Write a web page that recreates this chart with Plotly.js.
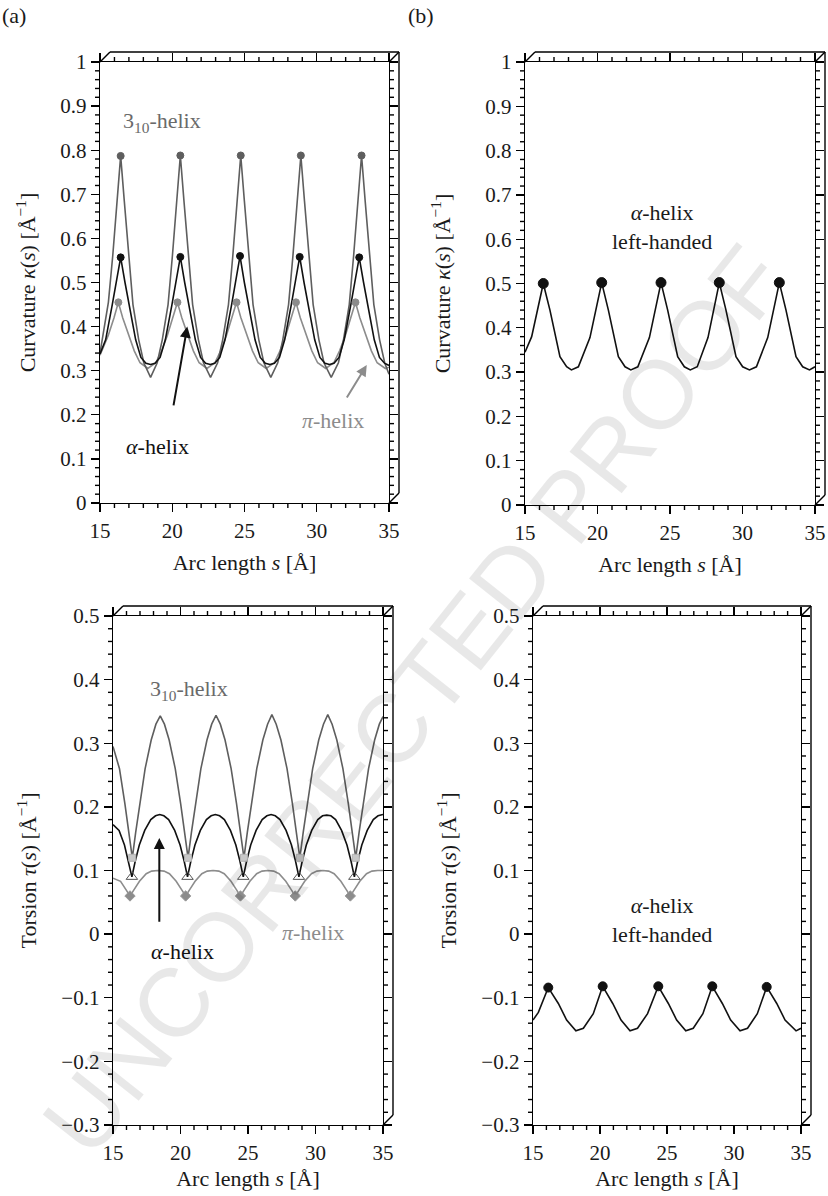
<!DOCTYPE html>
<html><head><meta charset="utf-8">
<script src="https://cdn.plot.ly/plotly-3.0.1.min.js"></script>
<style>body{margin:0;background:#fff}#chart{width:828px;height:1196px}</style>
</head><body><div id="chart"></div>
<script>
// ---------- (a) curvature ----------
const s_k310 = [15.00,15.58,15.88,16.18,16.43,16.68,16.98,17.28,17.68,18.03,18.50,18.96,19.31,19.71,20.01,20.31,20.56,20.81,21.11,21.41,21.81,22.16,22.65,23.14,23.49,23.89,24.19,24.49,24.74,24.99,25.29,25.59,25.99,26.34,26.82,27.30,27.65,28.05,28.35,28.65,28.90,29.15,29.45,29.75,30.15,30.50,31.00,31.50,31.85,32.25,32.55,32.85,33.10,33.35,33.65,33.95,34.35,34.70,35.00];
const k310   = [0.340,0.455,0.560,0.685,0.787,0.685,0.560,0.450,0.370,0.318,0.285,0.318,0.370,0.450,0.560,0.685,0.788,0.685,0.560,0.450,0.370,0.318,0.285,0.318,0.370,0.450,0.560,0.685,0.788,0.685,0.560,0.450,0.370,0.318,0.285,0.318,0.370,0.450,0.560,0.685,0.788,0.685,0.560,0.450,0.370,0.318,0.285,0.318,0.370,0.450,0.560,0.685,0.788,0.685,0.560,0.450,0.370,0.318,0.292];
const s_kA = [15.00,15.39,15.85,16.13,16.43,16.73,17.01,17.47,17.83,18.18,18.50,18.81,19.16,19.52,19.98,20.26,20.56,20.86,21.14,21.60,21.96,22.31,22.63,22.94,23.29,23.65,24.11,24.39,24.69,24.99,25.27,25.73,26.09,26.44,26.76,27.07,27.42,27.78,28.24,28.52,28.82,29.12,29.40,29.86,30.22,30.57,30.88,31.19,31.54,31.90,32.36,32.64,32.94,33.24,33.52,33.98,34.34,34.69,35.00];
const kA   = [0.338,0.370,0.450,0.500,0.557,0.500,0.450,0.370,0.330,0.317,0.314,0.317,0.330,0.370,0.450,0.500,0.558,0.500,0.450,0.370,0.330,0.317,0.314,0.317,0.330,0.370,0.450,0.500,0.560,0.500,0.450,0.370,0.330,0.317,0.314,0.317,0.330,0.370,0.450,0.500,0.558,0.500,0.450,0.370,0.330,0.317,0.314,0.317,0.330,0.370,0.450,0.500,0.557,0.500,0.450,0.370,0.330,0.317,0.312];
const s_kPi = [15.00,15.57,15.97,16.27,16.57,16.97,17.37,17.77,18.31,18.86,19.26,19.66,20.06,20.36,20.66,21.06,21.46,21.86,22.40,22.95,23.35,23.75,24.15,24.45,24.75,25.15,25.55,25.95,26.50,27.06,27.46,27.86,28.26,28.56,28.86,29.26,29.66,30.06,30.62,31.18,31.58,31.98,32.38,32.68,32.98,33.38,33.78,34.18,34.75,35.00];
const kPi   = [0.335,0.380,0.420,0.455,0.420,0.380,0.345,0.318,0.305,0.318,0.345,0.380,0.420,0.455,0.420,0.380,0.345,0.318,0.305,0.318,0.345,0.380,0.420,0.455,0.420,0.380,0.345,0.318,0.305,0.318,0.345,0.380,0.420,0.455,0.420,0.380,0.345,0.318,0.305,0.318,0.345,0.380,0.420,0.455,0.420,0.380,0.345,0.318,0.305,0.308];
const pk310_s = [16.43,20.56,24.74,28.90,33.10], pk310 = [0.787,0.788,0.788,0.788,0.788];
const pkA_s   = [16.43,20.56,24.69,28.82,32.94], pkA   = [0.557,0.558,0.560,0.558,0.557];
const pkPi_s  = [16.27,20.36,24.45,28.56,32.68], pkPi  = [0.455,0.455,0.455,0.455,0.455];

// ---------- (a) torsion ----------
const s_t310 = [15.00,15.48,15.88,16.18,16.43,16.68,16.98,17.38,17.83,18.18,18.50,18.81,19.16,19.61,20.01,20.31,20.56,20.81,21.11,21.51,21.96,22.31,22.63,22.95,23.30,23.75,24.15,24.45,24.70,24.95,25.25,25.65,26.10,26.45,26.77,27.09,27.44,27.89,28.29,28.59,28.84,29.09,29.39,29.79,30.24,30.59,30.91,31.23,31.58,32.03,32.43,32.73,32.98,33.23,33.53,33.93,34.38,34.73,35.00];
const t310   = [0.295,0.260,0.205,0.160,0.120,0.160,0.205,0.260,0.305,0.330,0.343,0.330,0.305,0.260,0.205,0.160,0.120,0.160,0.205,0.260,0.305,0.330,0.344,0.330,0.305,0.260,0.205,0.160,0.120,0.160,0.205,0.260,0.305,0.330,0.345,0.330,0.305,0.260,0.205,0.160,0.120,0.160,0.205,0.260,0.305,0.330,0.345,0.330,0.305,0.260,0.205,0.160,0.120,0.160,0.205,0.260,0.305,0.330,0.342];
const s_tA = [15.00,15.45,15.85,16.15,16.40,16.65,16.95,17.35,17.80,18.15,18.46,18.77,19.12,19.57,19.97,20.27,20.52,20.77,21.07,21.47,21.92,22.27,22.58,22.90,23.25,23.70,24.10,24.40,24.65,24.90,25.20,25.60,26.05,26.40,26.71,27.02,27.37,27.82,28.22,28.52,28.77,29.02,29.32,29.72,30.17,30.52,30.83,31.14,31.49,31.93,32.33,32.63,32.88,33.13,33.43,33.83,34.28,34.63,35.00];
const tA   = [0.172,0.163,0.140,0.115,0.090,0.115,0.140,0.163,0.180,0.186,0.188,0.186,0.180,0.163,0.140,0.115,0.090,0.115,0.140,0.163,0.180,0.186,0.188,0.186,0.180,0.163,0.140,0.115,0.090,0.115,0.140,0.163,0.180,0.186,0.188,0.186,0.180,0.163,0.140,0.115,0.090,0.115,0.140,0.163,0.180,0.186,0.187,0.186,0.180,0.163,0.140,0.115,0.090,0.115,0.140,0.163,0.180,0.186,0.188];
const s_tPi = [15.00,15.56,15.96,16.26,16.56,16.96,17.46,17.86,18.32,18.78,19.18,19.68,20.08,20.38,20.68,21.08,21.58,21.98,22.41,22.84,23.24,23.74,24.14,24.44,24.74,25.14,25.64,26.04,26.47,26.90,27.30,27.80,28.20,28.50,28.80,29.20,29.70,30.10,30.54,30.98,31.38,31.88,32.28,32.58,32.88,33.28,33.78,34.18,34.60,35.00];
const tPi   = [0.088,0.083,0.070,0.060,0.070,0.083,0.095,0.099,0.100,0.099,0.095,0.083,0.070,0.060,0.070,0.083,0.095,0.099,0.100,0.099,0.095,0.083,0.070,0.060,0.070,0.083,0.095,0.099,0.100,0.099,0.095,0.083,0.070,0.060,0.070,0.083,0.095,0.099,0.100,0.099,0.095,0.083,0.070,0.060,0.070,0.083,0.095,0.099,0.100,0.100];
const mn310_s = [16.43,20.56,24.70,28.84,32.98], mn310 = [0.120,0.120,0.120,0.120,0.120];
const mnA_s   = [16.40,20.52,24.65,28.77,32.88], mnA   = [0.090,0.090,0.090,0.090,0.090];
const mnPi_s  = [16.26,20.38,24.44,28.50,32.58], mnPi  = [0.060,0.060,0.060,0.060,0.060];

// ---------- (b) left-handed alpha ----------
const s_kL = [15.00,15.46,16.26,16.72,17.41,17.87,18.20,18.68,19.48,20.29,20.75,21.44,21.90,22.30,22.78,23.58,24.38,24.84,25.53,25.99,26.40,26.88,27.62,28.40,28.86,29.55,30.01,30.48,30.96,31.74,32.54,33.00,33.69,34.15,34.62,35.00];
const kL   = [0.345,0.380,0.500,0.440,0.335,0.312,0.305,0.312,0.378,0.502,0.440,0.335,0.312,0.305,0.312,0.378,0.502,0.440,0.335,0.312,0.305,0.312,0.378,0.502,0.440,0.335,0.312,0.305,0.312,0.378,0.502,0.440,0.335,0.312,0.305,0.312];
const pkL_s = [16.26,20.29,24.38,28.40,32.54], pkL = [0.500,0.502,0.502,0.502,0.502];
const s_tL = [15.00,15.40,16.14,16.89,17.51,18.20,18.76,19.50,20.20,20.95,21.57,22.24,22.80,23.55,24.35,25.10,25.72,26.40,26.96,27.68,28.38,29.13,29.75,30.45,31.01,31.74,32.44,33.19,33.81,34.63,35.00];
const tL   = [-0.135,-0.123,-0.084,-0.109,-0.135,-0.152,-0.148,-0.125,-0.082,-0.109,-0.135,-0.152,-0.148,-0.125,-0.082,-0.109,-0.135,-0.152,-0.148,-0.125,-0.082,-0.109,-0.135,-0.152,-0.148,-0.125,-0.083,-0.109,-0.135,-0.152,-0.148];
const pkTL_s = [16.14,20.20,24.35,28.38,32.44], pkTL = [-0.084,-0.082,-0.082,-0.082,-0.083];

// tick settings
const xTicks  = {range:[15,35], dtick:5, nminor:5};
const yTicksK = {range:[0,1], dtick:0.1, nminor:5};
const yTicksT = {range:[-0.3,0.5], dtick:0.1, nminor:5};

const W=828,H=1196;
const FONT = 'Liberation Serif, Times New Roman, serif';
const C310='#5e5e5e', CA='#111111', CPi='#8c8c8c';
const P = {
  a1:{x0:100,x1:389,y0:62,y1:503},
  b1:{x0:525,x1:815,y0:62,y1:505},
  a2:{x0:113,x1:383,y0:616,y1:1125},
  b2:{x0:533,x1:801,y0:616,y1:1125}
};
const px = v=>v/W, py = v=>1-v/H;

function line(x,y,xa,ya,color,w){return {x:x,y:y,xaxis:xa,yaxis:ya,mode:'lines',line:{color:color,width:w||1.6},hoverinfo:'skip'};}
function mk(x,y,xa,ya,sym,size,color,lc){return {x:x,y:y,xaxis:xa,yaxis:ya,mode:'markers',marker:{symbol:sym,size:size,color:color,line:{color:lc||color,width:1}},hoverinfo:'skip'};}

// decoration (back edges of the 3D frame and minor ticks) drawn in a page-pixel overlay
const decoX=[], decoY=[];
function seg(a,b,c,e){decoX.push(a,c,null);decoY.push(b,e,null);}
function box(p){
  const d=10;
  seg(p.x0,p.y0,p.x0+d,p.y0-d);
  seg(p.x1,p.y0,p.x1+d,p.y0-d);
  seg(p.x1,p.y1,p.x1+d,p.y1-d);
  seg(p.x0+d,p.y0-d,p.x1+d,p.y0-d);
  seg(p.x1+d,p.y0-d,p.x1+d,p.y1-d);
}
const minX=[], minY=[];
function mseg(a,b,c,e){minX.push(a,c,null);minY.push(b,e,null);}
function minor(p,xt,yt){
  const L=5;
  const nx=Math.round((xt.range[1]-xt.range[0])/xt.dtick*xt.nminor);
  for(let i=1;i<nx;i++){ if(i%xt.nminor===0) continue;
    const X=p.x0+(p.x1-p.x0)*i/nx;
    mseg(X,p.y1,X,p.y1+L); mseg(X,p.y0,X,p.y0-L);
  }
  const ny=Math.round((yt.range[1]-yt.range[0])/yt.dtick*yt.nminor);
  for(let i=1;i<ny;i++){ if(i%yt.nminor===0) continue;
    const Y=p.y1-(p.y1-p.y0)*i/ny;
    mseg(p.x0,Y,p.x0-L,Y); mseg(p.x1,Y,p.x1+L,Y);
  }
}
box(P.a1);box(P.b1);box(P.a2);box(P.b2);
minor(P.a1,xTicks,yTicksK);minor(P.b1,xTicks,yTicksK);minor(P.a2,xTicks,yTicksT);minor(P.b2,xTicks,yTicksT);

const data = [
  line(s_kPi,kPi,'x','y',CPi), line(s_k310,k310,'x','y',C310), line(s_kA,kA,'x','y',CA),
  mk(pkPi_s,pkPi,'x','y','circle',7,CPi), mk(pk310_s,pk310,'x','y','circle',7,C310), mk(pkA_s,pkA,'x','y','circle',7,CA),
  line(s_kL,kL,'x2','y2',CA),
  mk(pkL_s,pkL,'x2','y2','circle',10,CA),
  line(s_tPi,tPi,'x3','y3',CPi), line(s_t310,t310,'x3','y3',C310), line(s_tA,tA,'x3','y3',CA),
  mk(mnPi_s,mnPi,'x3','y3','diamond',8,'#8c8c8c','#9a9a9a'),
  mk(mn310_s,mn310,'x3','y3','square',7,'#c8c8c8','#b0b0b0'),
  mk(mnA_s,mnA,'x3','y3','triangle-up-open',10,'#555555'),
  line(s_tL,tL,'x4','y4',CA),
  mk(pkTL_s,pkTL,'x4','y4','circle',9,CA),
  {x:decoX,y:decoY,xaxis:'x9',yaxis:'y9',mode:'lines',line:{color:'#000',width:1.4},hoverinfo:'skip',cliponaxis:false},
  {x:minX,y:minY,xaxis:'x9',yaxis:'y9',mode:'lines',line:{color:'#000',width:1.4},hoverinfo:'skip',cliponaxis:false}
];

const TF = {family:FONT,size:21,color:'#1a1a1a'};
const TTF = {family:FONT,size:22,color:'#1a1a1a'};
function base(){return {ticks:'outside',ticklen:8,tickwidth:1.4,tickcolor:'#000',mirror:'ticks',showline:true,linecolor:'#000',linewidth:1.4,showgrid:false,zeroline:false,tickfont:TF};}
function xax(p,t,anchor,standoff){
  return Object.assign(base(),{domain:[px(p.x0),px(p.x1)],anchor:anchor,range:t.range,dtick:t.dtick,tick0:t.range[0],
    title:{text:'Arc length <i>s</i> [Å]',font:TTF,standoff:standoff}});
}
function yax(p,t,anchor,title,standoff){
  return Object.assign(base(),{domain:[py(p.y1),py(p.y0)],anchor:anchor,range:t.range,dtick:t.dtick,tick0:0,
    title:{text:title,font:TTF,standoff:standoff}});
}
const KT='Curvature <i>κ</i>(<i>s</i>) [Å<sup>−1</sup>]';
const TT='Torsion <i>τ</i>(<i>s</i>) [Å<sup>−1</sup>]';

function txt(x,y,xr,yr,text,color,extra){return Object.assign({x:x,y:y,xref:xr,yref:yr,text:text,showarrow:false,font:{family:FONT,size:22,color:color}},extra||{});}
function arr(x,y,ax,ay,xr,yr,color){return {x:x,y:y,ax:ax,ay:ay,xref:xr,yref:yr,axref:xr,ayref:yr,text:'',showarrow:true,arrowhead:2,arrowsize:1.1,arrowwidth:2,arrowcolor:color};}

const annotations=[
  {x:px(414),y:py(700),xref:'paper',yref:'paper',text:'UNCORRECTED PROOF',showarrow:false,textangle:-51.5,
   font:{family:'Liberation Sans, Arial, sans-serif',size:97,color:'rgba(0,0,0,0.09)'}},
  txt(px(14),py(15),'paper','paper','(a)','#1a1a1a',{yanchor:'middle',xanchor:'center'}),
  txt(px(421),py(15),'paper','paper','(b)','#1a1a1a',{yanchor:'middle',xanchor:'center'}),
  txt(19.29,0.864,'x','y','3<sub>10</sub>-helix','#6a6a6a'),
  txt(18.98,0.127,'x','y','<i>α</i>-helix','#111'),
  txt(31.09,0.188,'x','y','<i>π</i>-helix','#8c8c8c'),
  arr(21.04,0.40,20.07,0.218,'x','y','#111'),
  arr(33.46,0.313,32.02,0.236,'x','y','#8c8c8c'),
  txt(24.45,0.628,'x2','y2','<i>α</i>-helix<br>left-handed','#1a1a1a'),
  txt(20.6,0.383,'x3','y3','3<sub>10</sub>-helix','#6a6a6a'),
  txt(20.15,-0.027,'x3','y3','<i>α</i>-helix','#111'),
  txt(29.78,0.002,'x3','y3','<i>π</i>-helix','#8c8c8c'),
  arr(18.43,0.151,18.43,0.017,'x3','y3','#111'),
  txt(24.63,0.022,'x4','y4','<i>α</i>-helix<br>left-handed','#1a1a1a')
];

const layout={
  width:W,height:H,margin:{l:0,r:0,t:0,b:0},paper_bgcolor:'#fff',plot_bgcolor:'rgba(0,0,0,0)',showlegend:false,
  font:{family:FONT,size:21,color:'#1a1a1a'},
  xaxis:xax(P.a1,xTicks,'y',13),
  yaxis:yax(P.a1,yTicksK,'x',KT,18),
  xaxis2:xax(P.b1,xTicks,'y2',13),
  yaxis2:yax(P.b1,yTicksK,'x2',KT,28),
  xaxis3:xax(P.a2,xTicks,'y3',7),
  yaxis3:yax(P.a2,yTicksT,'x3',TT,18),
  xaxis4:xax(P.b2,xTicks,'y4',7),
  yaxis4:yax(P.b2,yTicksT,'x4',TT,18),
  xaxis9:{domain:[0,1],range:[0,W],visible:false,anchor:'y9',fixedrange:true},
  yaxis9:{domain:[0,1],range:[H,0],visible:false,anchor:'x9',fixedrange:true},
  annotations:annotations
};
Plotly.newPlot('chart',data,layout,{staticPlot:true});
</script></body></html>
